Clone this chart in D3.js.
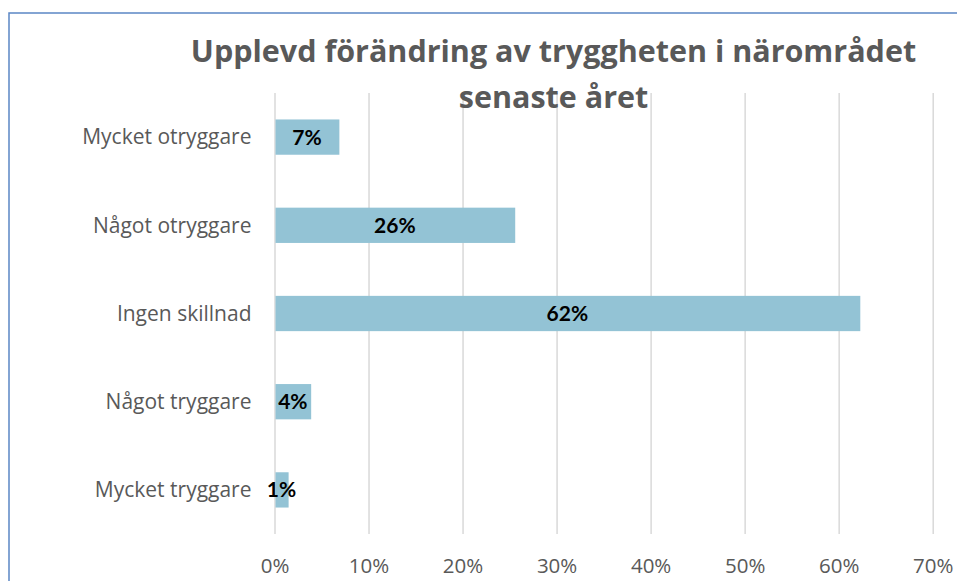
<!DOCTYPE html>
<html>
<head>
<meta charset="utf-8">
<script src="https://cdn.jsdelivr.net/npm/d3@7"></script>
<style>
  html, body { margin: 0; padding: 0; background: #fff; }
  svg { display: block; }
  text { font-family: "Open Sans", sans-serif; }
</style>
</head>
<body>
<svg id="chart" width="957" height="581"></svg>
<script>
const categories = ["Mycket otryggare", "Något otryggare", "Ingen skillnad", "Något tryggare", "Mycket tryggare"];
const values = [0.069, 0.256, 0.623, 0.039, 0.015];
const valueLabels = ["7%", "26%", "62%", "4%", "1%"];
const tickValues = [0, 0.1, 0.2, 0.3, 0.4, 0.5, 0.6, 0.7];
const titleLines = ["Upplevd förändring av tryggheten i närområdet", "senaste året"];

const W = 957, H = 581;
const margin = { top: 93, right: 24.3, bottom: 47, left: 274.5 };
const svg = d3.select("#chart");

// chart border
svg.append("rect")
  .attr("x", 9).attr("y", 13)
  .attr("width", W + 20).attr("height", H + 20)
  .attr("fill", "none")
  .attr("stroke", "#5B86C5")
  .attr("stroke-width", 1.5);

const x = d3.scaleLinear().domain([0, 0.7]).range([margin.left, W - margin.right]);
const y = d3.scaleBand().domain(categories).range([margin.top, H - margin.bottom])
  .paddingInner(0.6).paddingOuter(0.3);

// gridlines
const grid = svg.append("g")
  .attr("transform", `translate(0,${H - margin.bottom})`)
  .call(d3.axisBottom(x).tickValues(tickValues)
    .tickSize(-(H - margin.bottom - margin.top)).tickFormat(""));
grid.select(".domain").remove();
grid.selectAll(".tick line").attr("stroke", "#D9D9D9").attr("stroke-width", 1.5);

// x tick labels
const xAxis = svg.append("g")
  .attr("transform", `translate(0,${H - margin.bottom})`)
  .call(d3.axisBottom(x).tickValues(tickValues).tickSize(0).tickPadding(0)
    .tickFormat(d3.format(".0%")));
xAxis.select(".domain").remove();
xAxis.selectAll(".tick text")
  .attr("fill", "#595959")
  .attr("font-size", 20.5)
  .attr("y", 39)
  .attr("dy", 0);

// y category labels
const yAxis = svg.append("g")
  .attr("transform", `translate(${margin.left},0)`)
  .call(d3.axisLeft(y).tickSize(0).tickPadding(23));
yAxis.select(".domain").remove();
yAxis.selectAll(".tick text")
  .attr("fill", "#595959")
  .attr("font-size", 21)
  .attr("dy", "0.35em");

// bars
const data = categories.map((c, i) => ({ c, v: values[i], l: valueLabels[i] }));
svg.append("g").selectAll("rect")
  .data(data).join("rect")
  .attr("x", x(0) + 1)
  .attr("y", d => y(d.c))
  .attr("width", d => x(d.v) - x(0) - 1)
  .attr("height", y.bandwidth())
  .attr("fill", "#93C3D5");

// value labels
svg.append("g").selectAll("text")
  .data(data).join("text")
  .attr("x", d => (x(0) + x(d.v)) / 2)
  .attr("y", d => y(d.c) + y.bandwidth() / 2)
  .attr("dy", "0.36em")
  .attr("text-anchor", "middle")
  .style("font-family", "Lato, sans-serif")
  .attr("font-size", 21)
  .attr("font-weight", "bold")
  .attr("fill", "#000")
  .text(d => d.l);

// title
svg.append("g").selectAll("text")
  .data(titleLines).join("text")
  .attr("x", 553.5)
  .attr("y", (d, i) => 62 + i * 46)
  .attr("text-anchor", "middle")
  .attr("font-size", 30.5)
  .attr("font-weight", "bold")
  .attr("fill", "#595959")
  .text(d => d);
</script>
</body>
</html>
